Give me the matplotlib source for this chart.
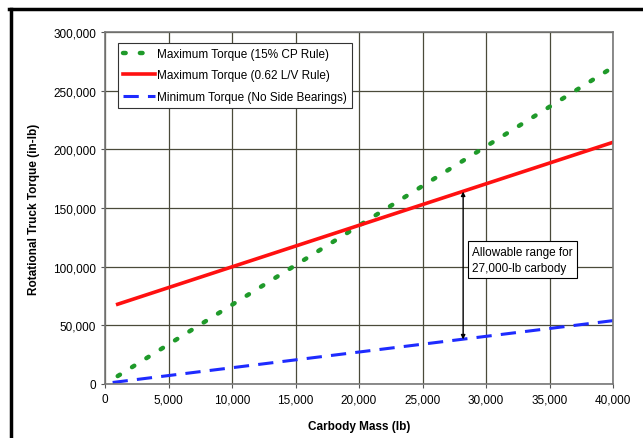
import matplotlib.pyplot as plt
from matplotlib.lines import Line2D
from matplotlib.ticker import FuncFormatter

plt.rcParams['font.family'] = ['Liberation Sans', 'DejaVu Sans']

# data
mass_cp = [1000, 40000]
torque_cp = [6750, 270000]          # Maximum Torque (15% CP Rule)
mass_lv = [1000, 40000]
torque_lv = [68000, 206000]         # Maximum Torque (0.62 L/V Rule)
mass_min = [600, 40000]
torque_min = [1300, 54000]          # Minimum Torque (No Side Bearings)

range_mass = 28200
range_top = 164000
range_bottom = 38000

x_ticks = list(range(0, 40001, 5000))
y_ticks = list(range(0, 300001, 50000))

#
fig = plt.figure(figsize=(6.43, 4.39), dpi=100)
ax = fig.add_axes([105/643, 1 - 385/439, (613-105)/643, (385-33)/439])

# outer frame (top and left only visible)
fig.add_artist(Line2D([9/643, 1], [1 - 9.5/439, 1 - 9.5/439], color='black', linewidth=2.5, transform=fig.transFigure))
fig.add_artist(Line2D([10.5/643, 10.5/643], [0, 1 - 9.5/439], color='black', linewidth=2.5, transform=fig.transFigure))

ax.plot(mass_cp, torque_cp, color='#1f9a2a', linestyle=(0, (0.6, 3.2)), linewidth=3.2,
        dash_capstyle='round', label='Maximum Torque (15% CP Rule)')
ax.plot(mass_lv, torque_lv, color='#ff1010', linestyle='-', linewidth=2.6,
        label='Maximum Torque (0.62 L/V Rule)')
ax.plot(mass_min, torque_min, color='#1e2bff', linestyle=(0, (5, 3)), linewidth=2.2,
        label='Minimum Torque (No Side Bearings)')

# allowable range arrow
ax.annotate('', xy=(range_mass, range_top), xytext=(range_mass, range_bottom),
            arrowprops=dict(arrowstyle='<|-|>', color='black', linewidth=1.0,
                            mutation_scale=6, shrinkA=0, shrinkB=0))
ax.text(28900, 106000, 'Allowable range for\n27,000-lb carbody', fontsize=8.5,
        ha='left', va='center', linespacing=1.45,
        bbox=dict(boxstyle='square,pad=0.35', facecolor='white', edgecolor='black', linewidth=0.8))

ax.set_xlim(0, 40000)
ax.set_ylim(0, 300000)
ax.set_xticks(x_ticks)
ax.set_yticks(y_ticks)
ax.xaxis.set_major_formatter(FuncFormatter(lambda v, p: f'{int(v):,}'))
ax.yaxis.set_major_formatter(FuncFormatter(lambda v, p: f'{int(v):,}'))
ax.tick_params(labelsize=8.5, length=3, color='#555555')
ax.grid(True, color='#4a4a3a', linewidth=0.9)
ax.set_axisbelow(True)
for s in ax.spines.values():
    s.set_color('#777777')
    s.set_linewidth(1.2)

ax.set_xlabel('Carbody Mass (lb)', fontsize=8.5, fontweight='bold', labelpad=11)
ax.set_ylabel('Rotational Truck Torque (in-lb)', fontsize=8.5, fontweight='bold', labelpad=9)

leg = ax.legend(loc='upper left', bbox_to_anchor=(0.025, 0.97), fontsize=8.5, frameon=True,
                fancybox=False, handlelength=2.7, handletextpad=0.2, borderpad=0.45,
                labelspacing=0.8, borderaxespad=0)
leg.get_frame().set_edgecolor('#333333')
leg.get_frame().set_linewidth(0.8)
leg.get_frame().set_alpha(1)

fig.savefig('out.png', dpi=100)
